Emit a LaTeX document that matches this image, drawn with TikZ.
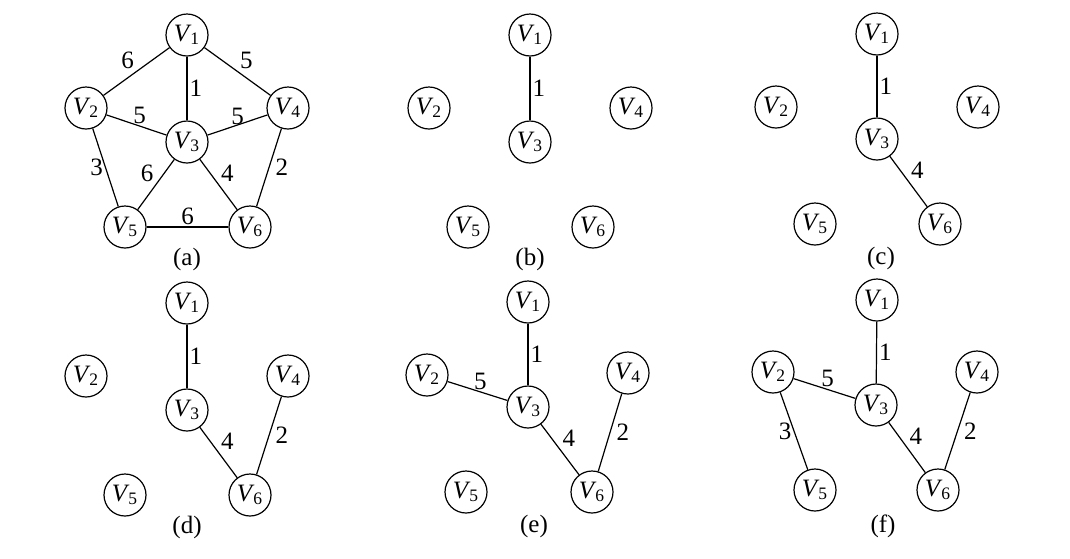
\documentclass[tikz,border=0pt]{standalone}
\usepackage{fontspec}
\setmainfont{Liberation Serif}
\newcommand{\vt}[1]{\textit{V}\kern-0.5pt\textsubscript{#1}}

\begin{document}
\begin{tikzpicture}[x=0.5pt,y=-0.5pt,font=\fontsize{12.5}{14}\selectfont,
      vtx/.style={circle,draw,line width=0.6pt,minimum size=21pt,inner sep=0pt},
      wt/.style={inner sep=1pt},
      edge/.style={line width=0.6pt}]
  \useasboundingbox (0,0) rectangle (1070,558);
  % (a) the whole graph
  \begin{scope}[shift={(187,35)}]
    \node[vtx] (a1) at (0,0) {\vt{1}};
    \node[vtx] (a2) at (-101,73) {\vt{2}};
    \node[vtx] (a3) at (0,107) {\vt{3}};
    \node[vtx] (a4) at (101,73) {\vt{4}};
    \node[vtx] (a5) at (-62,192) {\vt{5}};
    \node[vtx] (a6) at (63,192) {\vt{6}};
    \node (capa) at (0,224) {(a)};
    \draw[edge] (a1) -- node[wt,above left] {6} (a2);
    \draw[edge] (a1) -- node[wt,above right] {5} (a4);
    \draw[edge] (a1) -- node[wt,right] {1} (a3);
    \draw[edge] (a2) -- node[wt,above,pos=0.55] {5} (a3);
    \draw[edge] (a3) -- node[wt,above,inner sep=0pt] {5} (a4);
    \draw[edge] (a2) -- node[wt,left] {3} (a5);
    \draw[edge] (a3) -- node[wt,above left] {6} (a5);
    \draw[edge] (a3) -- node[wt,above right] {4} (a6);
    \draw[edge] (a4) -- node[wt,right=2pt] {2} (a6);
    \draw[edge] (a5) -- node[wt,above] {6} (a6);
  \end{scope}
  % (b)
  \begin{scope}[shift={(530,35)}]
    \node[vtx] (b1) at (0,0) {\vt{1}};
    \node[vtx] (b2) at (-101,73) {\vt{2}};
    \node[vtx] (b3) at (0,107) {\vt{3}};
    \node[vtx] (b4) at (101,73) {\vt{4}};
    \node[vtx] (b5) at (-62,192) {\vt{5}};
    \node[vtx] (b6) at (63,192) {\vt{6}};
    \node (capb) at (0,224) {(b)};
    \draw[edge] (b1) -- node[wt,right] {1} (b3);
  \end{scope}
  % (c)
  \begin{scope}[shift={(877,34)}]
    \node[vtx] (c1) at (0,0) {\vt{1}};
    \node[vtx] (c2) at (-101,73) {\vt{2}};
    \node[vtx] (c3) at (0,105) {\vt{3}};
    \node[vtx] (c4) at (101,73) {\vt{4}};
    \node[vtx] (c5) at (-62,190) {\vt{5}};
    \node[vtx] (c6) at (63,190) {\vt{6}};
    \node (capc) at (4,224) {(c)};
    \draw[edge] (c1) -- node[wt,right] {1} (c3);
    \draw[edge] (c3) -- node[wt,above right] {4} (c6);
  \end{scope}
  % (d)
  \begin{scope}[shift={(187,303)}]
    \node[vtx] (d1) at (0,0) {\vt{1}};
    \node[vtx] (d2) at (-101,73) {\vt{2}};
    \node[vtx] (d3) at (0,107) {\vt{3}};
    \node[vtx] (d4) at (101,73) {\vt{4}};
    \node[vtx] (d5) at (-62,192) {\vt{5}};
    \node[vtx] (d6) at (63,192) {\vt{6}};
    \node (capd) at (0,224) {(d)};
    \draw[edge] (d1) -- node[wt,right] {1} (d3);
    \draw[edge] (d3) -- node[wt,above right] {4} (d6);
    \draw[edge] (d4) -- node[wt,right=2pt] {2} (d6);
  \end{scope}
  % (e)
  \begin{scope}[shift={(528,302)}]
    \node[vtx] (e1) at (0,0) {\vt{1}};
    \node[vtx] (e2) at (-101,73) {\vt{2}};
    \node[vtx] (e3) at (0,105) {\vt{3}};
    \node[vtx] (e4) at (100,71) {\vt{4}};
    \node[vtx] (e5) at (-62,190) {\vt{5}};
    \node[vtx] (e6) at (64,190) {\vt{6}};
    \node (cape) at (6,224) {(e)};
    \draw[edge] (e1) -- node[wt,right] {1} (e3);
    \draw[edge] (e2) -- node[wt,above,pos=0.55] {5} (e3);
    \draw[edge] (e3) -- node[wt,above right] {4} (e6);
    \draw[edge] (e4) -- node[wt,right=2pt] {2} (e6);
  \end{scope}
  % (f)
  \begin{scope}[shift={(877,300)}]
    \node[vtx] (f1) at (0,0) {\vt{1}};
    \node[vtx] (f2) at (-104,72) {\vt{2}};
    \node[vtx] (f3) at (-1,105) {\vt{3}};
    \node[vtx] (f4) at (100,72) {\vt{4}};
    \node[vtx] (f5) at (-62,190) {\vt{5}};
    \node[vtx] (f6) at (61,190) {\vt{6}};
    \node (capf) at (6,226) {(f)};
    \draw[edge] (f1) -- node[wt,right] {1} (f3);
    \draw[edge] (f2) -- node[wt,above,pos=0.55] {5} (f3);
    \draw[edge] (f2) -- node[wt,left] {3} (f5);
    \draw[edge] (f3) -- node[wt,above right] {4} (f6);
    \draw[edge] (f4) -- node[wt,right=2pt] {2} (f6);
  \end{scope}
\end{tikzpicture}
\end{document}
